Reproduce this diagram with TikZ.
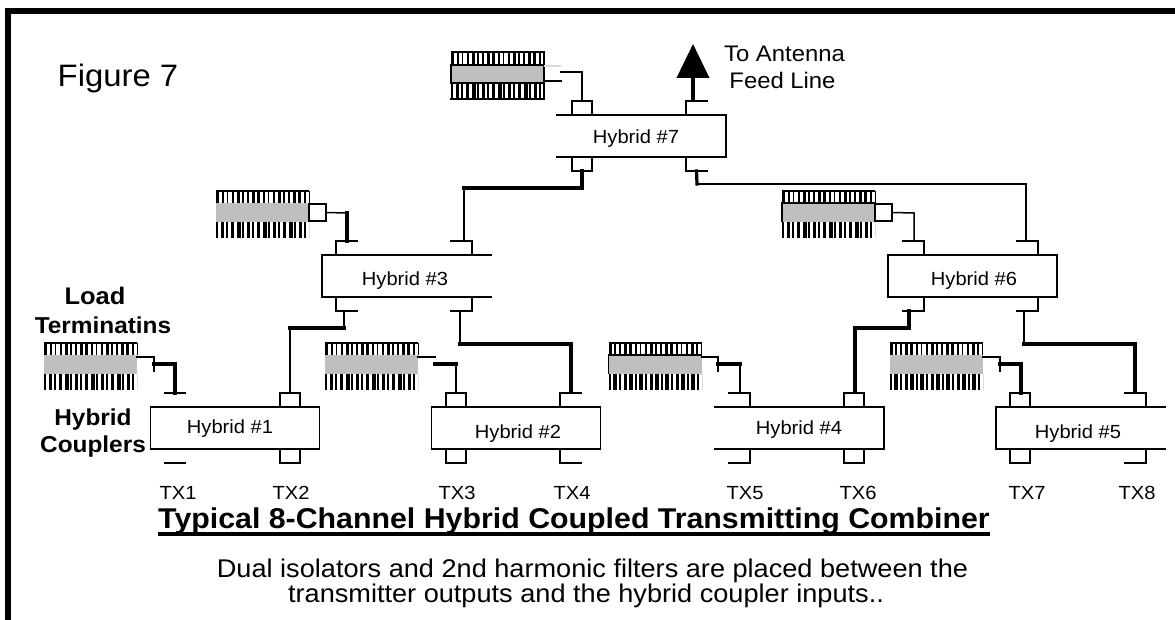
\documentclass[tikz,border=0pt]{standalone}
\usepackage{fontspec}
\usepackage{tikz}
\usetikzlibrary{arrows.meta}
\setmainfont[FakeStretch=1.06]{Liberation Sans}
\definecolor{loadgray}{HTML}{BFBFBF}
\tikzset{
  hybrid/.style={minimum width=169pt, minimum height=42pt, inner sep=0pt, outer sep=0pt},
  boxline/.style={line width=1.4pt, line cap=rect},
  port/.style={minimum width=21pt, minimum height=14pt, inner sep=0pt, outer sep=0pt},
  portbox/.style={port, draw, boxline, minimum width=20pt},
  stubTL/.style={port, append after command={\pgfextra{\let\thisport\tikzlastnode} (\thisport.south west) edge[boxline] (\thisport.north west) (\thisport.north west) edge[boxline] (\thisport.north east)}},
  stubTR/.style={port, append after command={\pgfextra{\let\thisport\tikzlastnode} (\thisport.south east) edge[boxline] (\thisport.north east) (\thisport.north east) edge[boxline] (\thisport.north west)}},
  stubBL/.style={port, append after command={\pgfextra{\let\thisport\tikzlastnode} (\thisport.north west) edge[boxline] (\thisport.south west) (\thisport.south west) edge[boxline] (\thisport.south east)}},
  stubBR/.style={port, append after command={\pgfextra{\let\thisport\tikzlastnode} (\thisport.north east) edge[boxline] (\thisport.south east) (\thisport.south east) edge[boxline] (\thisport.south west)}},
  stubT/.style={port, append after command={\pgfextra{\let\thisport\tikzlastnode} (\thisport.north west) edge[boxline] (\thisport.north east)}},
  stubB/.style={port, append after command={\pgfextra{\let\thisport\tikzlastnode} (\thisport.south west) edge[boxline] (\thisport.south east)}},
  combtop/.style={line width=12pt, dash pattern=on 3pt off 2.5pt on 2pt off 3pt on 1.5pt off 3.5pt on 2.5pt off 2.5pt},
  combbottom/.style={line width=16pt, dash pattern=on 2pt off 2.5pt on 3.5pt off 2pt on 2pt off 3pt on 3pt off 2.5pt on 4pt off 1.5pt},
  load/.style={fill=loadgray, minimum width=93pt, minimum height=19pt, inner sep=0pt, outer sep=0pt,
    append after command={\pgfextra{\let\thisload\tikzlastnode}
      ([yshift=6pt]\thisload.north west) edge[combtop] ([yshift=6pt]\thisload.north east)
      ([yshift=12pt]\thisload.north west) edge[boxline, line cap=butt] ([yshift=12pt]\thisload.north east)
      ([yshift=-8pt]\thisload.south west) edge[combbottom] ([yshift=-8pt]\thisload.south east)}},
  wire/.style={line width=1.5pt, line cap=rect},
  heavy/.style={line width=3.2pt, line cap=rect},
  hybtext/.style={font=\fontsize{19pt}{20pt}\selectfont, anchor=base, inner sep=0pt},
  boldtext/.style={font=\fontsize{23pt}{25pt}\selectfont\bfseries, anchor=base, inner sep=0pt}
}
\begin{document}
\begin{tikzpicture}[x=1pt,y=-1pt]
         \useasboundingbox (0,0) rectangle (1175,620);
         \draw[line width=6pt] (8,620) -- (8,11) -- (1175,11);

         \node[hybrid] (H1) at (235,428) {};
         \node[hybrid] (H2) at (516,428) {};
         \node[hybrid] (H3) at (406.5,276) {};
         \node[hybrid] (H4) at (799.5,428) {};
         \node[hybrid] (H5) at (1080.5,428) {};
         \node[hybrid] (H6) at (972.5,276) {};
         \node[hybrid] (H7) at (641.5,136) {};
         \draw[boxline] (H1.north west) rectangle (H1.south east);
         \draw[boxline] (H2.north west) rectangle (H2.south east);
         \draw[boxline] (H3.north east) -- (H3.north west) -- (H3.south west) -- (H3.south east);
         \draw[boxline] (H4.north west) -- (H4.north east) -- (H4.south east) -- (H4.south west);
         \draw[boxline] (H5.north east) -- (H5.north west) -- (H5.south west) -- (H5.south east);
         \draw[boxline] (H6.north west) rectangle (H6.south east);
         \draw[boxline] (H7.north west) -- (H7.north east) -- (H7.south east) -- (H7.south west);

         \node[hybtext] (T1) at (230,433) {Hybrid \#1};
         \node[hybtext] (T2) at (518,438) {Hybrid \#2};
         \node[hybtext] (T3) at (405,286) {Hybrid \#3};
         \node[hybtext] (T4) at (799,434) {Hybrid \#4};
         \node[hybtext] (T5) at (1078,438) {Hybrid \#5};
         \node[hybtext] (T6) at (974,286) {Hybrid \#6};
         \node[hybtext] (T7) at (636,144) {Hybrid \#7};

         \node[stubT] (P1a) at (175,400) {};
         \node[portbox] (P1b) at (290,400) {};
         \node[stubB] (P1c) at (175,456) {};
         \node[portbox] (P1d) at (290,456) {};
         \node[portbox] (P2a) at (456,400) {};
         \node[stubTL] (P2b) at (570.5,400) {};
         \node[portbox] (P2c) at (456,456) {};
         \node[stubBL] (P2d) at (570.5,456) {};
         \node[stubTL] (P3a) at (346.5,248) {};
         \node[stubTR] (P3b) at (461.5,248) {};
         \node[stubBL] (P3c) at (346.5,304) {};
         \node[stubBR] (P3d) at (461.5,304) {};
         \node[stubTR] (P4a) at (739.5,400) {};
         \node[portbox] (P4b) at (854,400) {};
         \node[stubBR] (P4c) at (739.5,456) {};
         \node[portbox] (P4d) at (854,456) {};
         \node[portbox] (P5a) at (1020,400) {};
         \node[stubTR] (P5b) at (1135.5,400) {};
         \node[portbox] (P5c) at (1020,456) {};
         \node[stubBR] (P5d) at (1135.5,456) {};
         \node[stubTR] (P6a) at (913.5,248) {};
         \node[stubTR] (P6b) at (1027.5,248) {};
         \node[stubBR] (P6c) at (913.5,304) {};
         \node[stubBR] (P6d) at (1027.5,304) {};
         \node[portbox] (P7a) at (582,108) {};
         \node[stubTL] (P7b) at (696.5,108) {};
         \node[portbox] (P7c) at (582,164) {};
         \node[stubBL] (P7d) at (696.5,164) {};

         \coordinate (Afoot) at (693,101);
         \coordinate (Atip) at (693,44);
         \draw[-{Triangle[length=34pt,width=32pt]}, line width=4pt] (Afoot) -- (Atip);

         \coordinate (J73) at (464,188);
         \draw[heavy] (P7c.south) |- (J73);
         \draw[wire] (J73) -- (J73 |- P3b.north);
         \coordinate (J76) at (697,184);
         \coordinate (K76) at (1026,184);
         \draw[heavy] (P7d.south) -- (J76);
         \draw[wire] (J76) -- (K76) -- (K76 |- P6b.north);

         \coordinate (J31) at (344,328);
         \coordinate (K31) at (290,328);
         \draw[wire] (J31 |- P3c.south) -- (J31);
         \draw[heavy] (J31) -- (K31);
         \draw[wire] (K31) -- (P1b.north);
         \coordinate (J32) at (460,344);
         \coordinate (K32) at (571,344);
         \draw[wire] (J32 |- P3d.south) -- (J32);
         \draw[heavy] (J32) -- (K32);
         \draw[line width=4pt] (K32) -- (K32 |- P2b.north);

         \coordinate (J64) at (909,328);
         \coordinate (K64) at (855,328);
         \draw[heavy] (J64 |- P6c.south) -- (J64) -- (K64);
         \draw[line width=4pt] (K64) -- (K64 |- P4b.north);
         \coordinate (J65) at (1024,344);
         \coordinate (K65) at (1135,344);
         \draw[wire] (J65 |- P6d.south) -- (J65);
         \draw[heavy] (J65) -- (K65);
         \draw[line width=4pt] (K65) -- (K65 |- P5b.north);

         \node[load] (L1) at (90.5,364.5) {};
         \node[load] (L2) at (371.5,364.5) {};
         \node[load] (L3) at (262.5,212.5) {};
         \node[load] (L4) at (655,364.5) {};
         \node[load] (L5) at (936,364.5) {};
         \node[load] (L6) at (828.5,212.5) {};
         \node[load] (L7) at (497.5,73.5) {};
         \draw[boxline] ([yshift=-1pt]L7.north west) rectangle (L7.south east);
         \draw[boxline] (L7.south east) -- ([yshift=-16pt]L7.south east) -- ([yshift=-16pt]L7.south west);
         \draw[boxline] (L7.north east) -- ([yshift=12pt]L7.north east);
         \draw[boxline, line cap=butt] (L4.south west) |- (L4.north east);
         \draw[boxline, line cap=butt] (L6.south west) |- (L6.north east);

         \node[portbox, minimum width=17pt, minimum height=17pt] (B3) at (317.5,212.5) {};
         \node[portbox, minimum width=17pt, minimum height=17pt] (B6) at (883.5,212.5) {};
         \coordinate (C3) at (347,213);
         \draw[wire] (B3.east) -- (C3);
         \draw[heavy] (C3) -- (C3 |- P3a.north);
         \coordinate (C6) at (914,213);
         \draw[wire] (B6.east) -- (C6) -- (C6 |- P6a.north);
         \coordinate (C7a) at (561,66);
         \coordinate (C7b) at (561,81);
         \coordinate (C7c) at (561,72);
         \coordinate (C7d) at (582,72);
         \draw[line width=1.2pt, gray!30] (L7.east |- C7a) -- (C7a);
         \draw[wire] (L7.east |- C7b) -- (C7b);
         \draw[wire] (C7c) -- (C7d) -- (P7a.north);

         \coordinate (C1a) at (154,357);
         \coordinate (C1b) at (154,364);
         \coordinate (C1c) at (154,371);
         \coordinate (C1d) at (175,364);
         \draw[wire] (L1.east |- C1a) -- (C1a) -- (C1c);
         \draw[heavy] (C1b) -- (C1d) -- (P1a.north);
         \coordinate (C2a) at (435,357);
         \coordinate (C2b) at (435,364);
         \coordinate (C2d) at (456,364);
         \draw[wire] (L2.east |- C2a) -- (C2a);
         \draw[heavy] (C2b) -- (C2d);
         \draw[wire] (C2d) -- (P2a.north);
         \coordinate (C4a) at (718,357);
         \coordinate (C4b) at (718,364);
         \coordinate (C4c) at (718,371);
         \coordinate (C4d) at (740,364);
         \draw[wire] (L4.east |- C4a) -- (C4a) -- (C4c);
         \draw[heavy] (C4b) -- (C4d);
         \draw[wire] (C4d) -- (C4d |- P4a.north);
         \coordinate (C5a) at (1000,357);
         \coordinate (C5b) at (1000,364);
         \coordinate (C5c) at (1000,371);
         \coordinate (C5d) at (1021,364);
         \draw[wire] (L5.east |- C5a) -- (C5a) -- (C5c);
         \draw[heavy] (C5b) -- (C5d) -- (C5d |- P5a.north);

         \node[hybtext] (TX1) at (178,499) {TX1};
         \node[hybtext] (TX2) at (291,499) {TX2};
         \node[hybtext] (TX3) at (457,499) {TX3};
         \node[hybtext] (TX4) at (572,499) {TX4};
         \node[hybtext] (TX5) at (745,499) {TX5};
         \node[hybtext] (TX6) at (858,499) {TX6};
         \node[hybtext] (TX7) at (1027,499) {TX7};
         \node[hybtext] (TX8) at (1137,499) {TX8};

         \node[hybtext, font=\fontsize{31pt}{33pt}\selectfont] (Fig) at (118,87) {Figure 7};
         \node[hybtext, font=\fontsize{22.5pt}{24pt}\selectfont] (Ant1) at (784.5,62) {To Antenna};
         \node[hybtext, font=\fontsize{22.5pt}{24pt}\selectfont] (Ant2) at (782.5,89) {Feed Line};
         \node[boldtext, font=\fontsize{24pt}{26pt}\selectfont\bfseries] (Load1) at (95,305) {Load};
         \node[boldtext] (Load2) at (103,334) {Terminatins};
         \node[boldtext] (Coup1) at (93,425) {Hybrid};
         \node[boldtext] (Coup2) at (93,452) {Couplers};
         \node[boldtext, font=\fontsize{28.6pt}{30pt}\selectfont\bfseries] (Title) at (574,528) {Typical 8-Channel Hybrid Coupled Transmitting Combiner};
         \draw[line width=3.5pt] ([yshift=-6pt]Title.base west) -- ([yshift=-6pt]Title.base east);
         \node[hybtext, font=\fontsize{25.6pt}{27pt}\selectfont] (Note1) at (592.5,577) {Dual isolators and 2nd harmonic filters are placed between the};
         \node[hybtext, font=\fontsize{25.6pt}{27pt}\selectfont] (Note2) at (586,602) {transmitter outputs and the hybrid coupler inputs..};
      \end{tikzpicture}
\end{document}
